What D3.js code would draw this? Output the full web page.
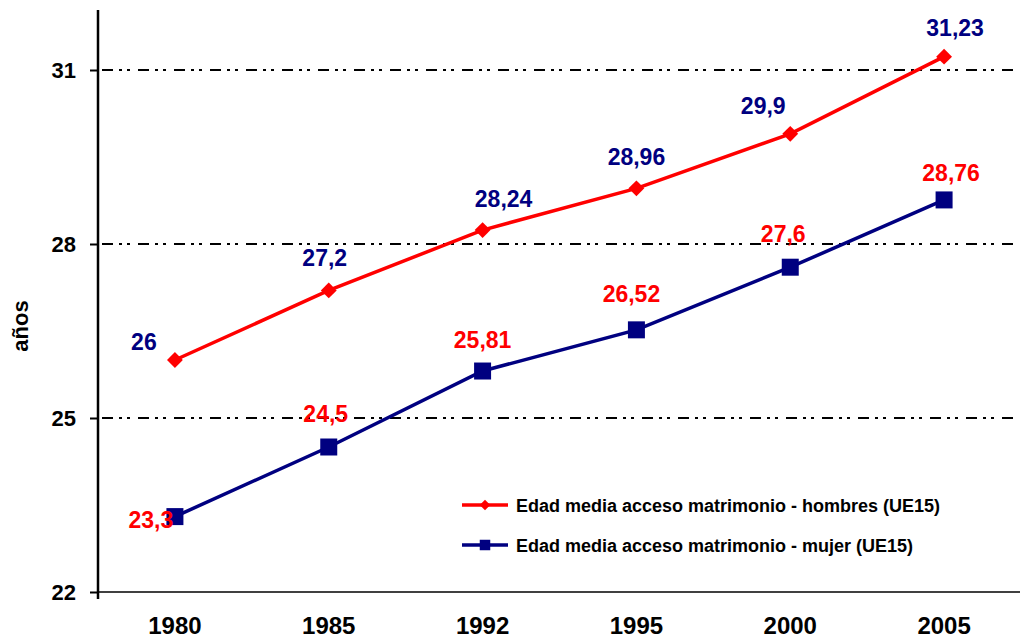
<!DOCTYPE html>
<html>
<head>
<meta charset="utf-8">
<script src="https://cdn.jsdelivr.net/npm/d3@7"></script>
<style>
  body { margin: 0; background: #fff; }
  svg text { font-family: "Liberation Sans", Arial, sans-serif; font-weight: bold; }
</style>
</head>
<body>
<div id="chart"></div>
<script>
// data
const years = ["1980", "1985", "1992", "1995", "2000", "2005"];
const hombres = [26, 27.2, 28.24, 28.96, 29.9, 31.23];
const mujer = [23.3, 24.5, 25.81, 26.52, 27.6, 28.76];
const yTicks = [22, 25, 28, 31];
const legendNames = [
    "Edad media acceso matrimonio - hombres (UE15)",
    "Edad media acceso matrimonio - mujer (UE15)"
];

// label nudges (px from the point to the text baseline centre)
const shiftH = [[-31, -10], [-4, -24], [21, -23], [0, -23], [-27, -20], [11, -21]];
const shiftM = [[-24, 11], [-3, -25], [0, -23], [-5, -28], [-7, -25], [7, -19]];

const width = 1020, height = 639;
const mLeft = 98, mRight = 1021, mTop = 12, mBottom = 592;

const svg = d3.select("#chart").append("svg")
    .attr("width", width)
    .attr("height", height);

const x = d3.scaleBand().domain(years).range([mLeft, mRight]);
const y = d3.scaleLinear().domain([22, 32]).range([mBottom, mTop]);
const cx = d => x(d) + x.bandwidth() / 2;

// grid lines, dash-dot-dot
svg.append("g")
    .selectAll("line")
    .data(yTicks.filter(t => t > 22))
    .join("line")
    .attr("x1", mLeft + 4)
    .attr("x2", 1016)
    .attr("y1", d => y(d))
    .attr("y2", d => y(d))
    .attr("stroke", "#000")
    .attr("stroke-width", 1.8)
    .attr("stroke-dasharray", "11,6,3,5,3,8");

// y axis
const yAxis = svg.append("g")
    .attr("transform", `translate(${mLeft},0)`)
    .call(d3.axisLeft(y).tickValues(yTicks).tickSize(8).tickPadding(14));
yAxis.select(".domain").attr("d", `M0,${mTop - 2}V${mBottom + 7}`).attr("stroke-width", 2.5);
yAxis.selectAll(".tick line").attr("stroke-width", 2);
yAxis.selectAll(".tick text").attr("font-size", 22).attr("fill", "#000")
    .attr("font-family", "Liberation Sans, Arial, sans-serif").attr("font-weight", "bold");

// x axis
const xAxis = svg.append("g")
    .attr("transform", `translate(0,${mBottom})`)
    .call(d3.axisBottom(x).tickSize(0).tickPadding(25));
xAxis.select(".domain").attr("d", `M${mLeft},0H${width}`).attr("stroke-width", 1.5);
xAxis.selectAll(".tick text").attr("font-size", 24).attr("fill", "#000")
    .attr("font-family", "Liberation Sans, Arial, sans-serif").attr("font-weight", "bold");

// axis title
svg.append("text")
    .attr("transform", "translate(28,326) rotate(-90)")
    .attr("text-anchor", "middle")
    .attr("font-size", 22)
    .text("años");

const line = d3.line().x((d, i) => cx(years[i])).y(d => y(d));
const diamond = d3.symbol().type(d3.symbolDiamond2).size(160);
const square = d3.symbol().type(d3.symbolSquare).size(289);

function series(vals, color, shape, labelColor, shift) {
    svg.append("path")
        .datum(vals)
        .attr("d", line)
        .attr("fill", "none")
        .attr("stroke", color)
        .attr("stroke-width", 3.5);
    svg.append("g").selectAll("path")
        .data(vals)
        .join("path")
        .attr("transform", (d, i) => `translate(${cx(years[i])},${y(d)})`)
        .attr("d", shape)
        .attr("fill", color);
    svg.append("g").selectAll("text")
        .data(vals)
        .join("text")
        .attr("x", (d, i) => cx(years[i]) + shift[i][0])
        .attr("y", (d, i) => y(d) + shift[i][1])
        .attr("text-anchor", "middle")
        .attr("font-size", 23)
        .attr("fill", labelColor)
        .text(d => String(d).replace(".", ","));
}

series(hombres, "#ff0000", diamond, "#000080", shiftH);
series(mujer, "#000080", square, "#ff0000", shiftM);

// legend
const legend = svg.append("g");
const legendColors = ["#ff0000", "#000080"];
const legendShapes = [d3.symbol().type(d3.symbolDiamond2).size(70), d3.symbol().type(d3.symbolSquare).size(110)];
legendNames.forEach((name, i) => {
    const ly = 505 + i * 40;
    legend.append("line")
        .attr("x1", 462).attr("x2", 508)
        .attr("y1", ly).attr("y2", ly)
        .attr("stroke", legendColors[i])
        .attr("stroke-width", 3.5);
    legend.append("path")
        .attr("transform", `translate(485,${ly})`)
        .attr("d", legendShapes[i])
        .attr("fill", legendColors[i]);
    legend.append("text")
        .attr("x", 516)
        .attr("y", ly + 6.5)
        .attr("font-size", 18)
        .attr("fill", "#000")
        .text(name);
});
</script>
</body>
</html>
